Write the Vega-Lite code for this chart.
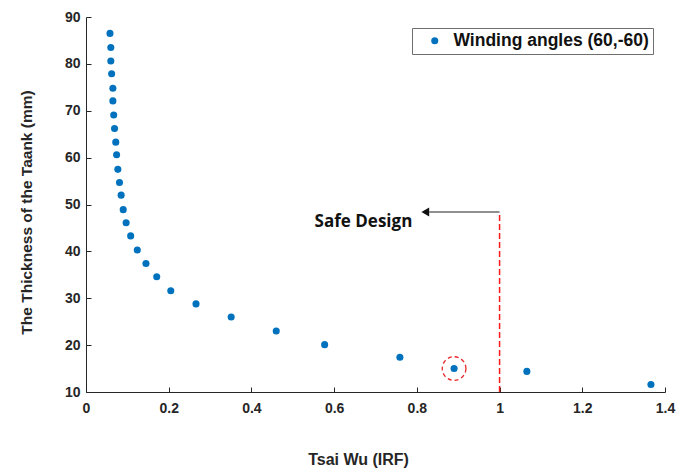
{
  "$schema": "https://vega.github.io/schema/vega-lite/v6.json",
  "autosize": "none",
  "width": 579,
  "height": 375,
  "padding": {"left": 86, "top": 17, "right": 11, "bottom": 78},
  "background": "white",
  "config": {
    "view": {"stroke": null},
    "axis": {
      "grid": false,
      "domainColor": "#262626",
      "tickColor": "#262626",
      "labelColor": "#262626",
      "titleColor": "#262626",
      "labelFont": "Liberation Sans",
      "titleFont": "Liberation Sans",
      "labelFontWeight": "bold",
      "titleFontWeight": "bold",
      "labelFontSize": 14,
      "titleFontSize": 16,
      "tickSize": -5
    },
    "legend": {
      "labelFont": "Liberation Sans",
      "labelFontWeight": "bold",
      "labelFontSize": 17.5,
      "labelColor": "#111111",
      "labelLimit": 0
    }
  },
  "datasets": {
    "pts": [
      {"irf": 0.058, "t": 86.5},
      {"irf": 0.060, "t": 83.5},
      {"irf": 0.060, "t": 80.6},
      {"irf": 0.062, "t": 77.9},
      {"irf": 0.065, "t": 74.8},
      {"irf": 0.065, "t": 72.1},
      {"irf": 0.067, "t": 69.1},
      {"irf": 0.069, "t": 66.2},
      {"irf": 0.072, "t": 63.3},
      {"irf": 0.074, "t": 60.6},
      {"irf": 0.077, "t": 57.5},
      {"irf": 0.081, "t": 54.7},
      {"irf": 0.085, "t": 52.0},
      {"irf": 0.090, "t": 48.9},
      {"irf": 0.097, "t": 46.1},
      {"irf": 0.108, "t": 43.3},
      {"irf": 0.124, "t": 40.3},
      {"irf": 0.145, "t": 37.4},
      {"irf": 0.171, "t": 34.6},
      {"irf": 0.205, "t": 31.6},
      {"irf": 0.266, "t": 28.8},
      {"irf": 0.351, "t": 26.0},
      {"irf": 0.460, "t": 23.0},
      {"irf": 0.577, "t": 20.1},
      {"irf": 0.759, "t": 17.4},
      {"irf": 0.890, "t": 15.0},
      {"irf": 1.066, "t": 14.4},
      {"irf": 1.366, "t": 11.6}
    ]
  },
  "layer": [
    {
      "data": {"name": "pts"},
      "transform": [{"calculate": "'Winding angles (60,-60)'", "as": "series"}],
      "mark": {"type": "point", "shape": "circle", "filled": true, "opacity": 1, "size": 50},
      "encoding": {
        "x": {"field": "irf", "type": "quantitative", "title": "Tsai Wu (IRF)",
              "scale": {"domain": [0, 1.4], "nice": false, "zero": false},
              "axis": {"values": [0, 0.2, 0.4, 0.6, 0.8, 1, 1.2, 1.4], "format": "~g", "labelPadding": 14, "titlePadding": 36, "titleX": 272, "labelFlush": false}},
        "y": {"field": "t", "type": "quantitative", "title": "The Thickness of the Taank (mm)",
              "scale": {"domain": [10, 90], "nice": false, "zero": false},
              "axis": {"values": [10, 20, 30, 40, 50, 60, 70, 80, 90], "labelPadding": 11, "titlePadding": 30, "titleY": 195, "titleFontSize": 15.5, "labelFlush": false}},
        "color": {"field": "series", "type": "nominal",
                  "scale": {"range": ["#0072BD"]},
                  "legend": {"title": null, "orient": "none", "legendX": 326, "legendY": 11,
                             "strokeColor": "#6e6e6e", "fillColor": "white", "padding": 4,
                             "symbolSize": 50, "symbolType": "circle", "symbolOffset": 10, "labelOffset": 10}}
      }
    },
    {
      "data": {"values": [{"irf": 0.890, "t": 15.0}]},
      "mark": {"type": "point", "shape": "circle", "filled": false, "size": 560, "stroke": "#e8282b", "strokeWidth": 1.3, "strokeDash": [4, 3], "opacity": 1},
      "encoding": {"x": {"field": "irf", "type": "quantitative"}, "y": {"field": "t", "type": "quantitative"}}
    },
    {
      "data": {"values": [{"irf": 0.83, "irf2": 1, "t": 48.4}]},
      "mark": {"type": "rule", "stroke": "#222222", "strokeWidth": 1.2},
      "encoding": {"x": {"field": "irf", "type": "quantitative"}, "x2": {"field": "irf2"}, "y": {"field": "t", "type": "quantitative"}}
    },
    {
      "data": {"values": [{"irf": 0.8205, "t": 48.4}]},
      "mark": {"type": "point", "shape": "triangle-left", "filled": true, "size": 80, "color": "#111111", "opacity": 1},
      "encoding": {"x": {"field": "irf", "type": "quantitative"}, "y": {"field": "t", "type": "quantitative"}}
    },
    {
      "data": {"values": [{"irf": 0.789, "t": 46.2, "label": "Safe Design"}]},
      "mark": {"type": "text", "align": "right", "baseline": "middle", "font": "Open Sans", "fontWeight": "bold", "fontSize": 17, "color": "#111111"},
      "encoding": {"x": {"field": "irf", "type": "quantitative"}, "y": {"field": "t", "type": "quantitative"}, "text": {"field": "label"}}
    },
    {
      "data": {"values": [{"irf": 1, "t": 10, "t2": 48.4}]},
      "mark": {"type": "rule", "stroke": "#ff1a1a", "strokeWidth": 1.5, "strokeDash": [6, 3], "opacity": 1},
      "encoding": {"x": {"field": "irf", "type": "quantitative"}, "y": {"field": "t", "type": "quantitative"}, "y2": {"field": "t2"}}
    }
  ]
}
